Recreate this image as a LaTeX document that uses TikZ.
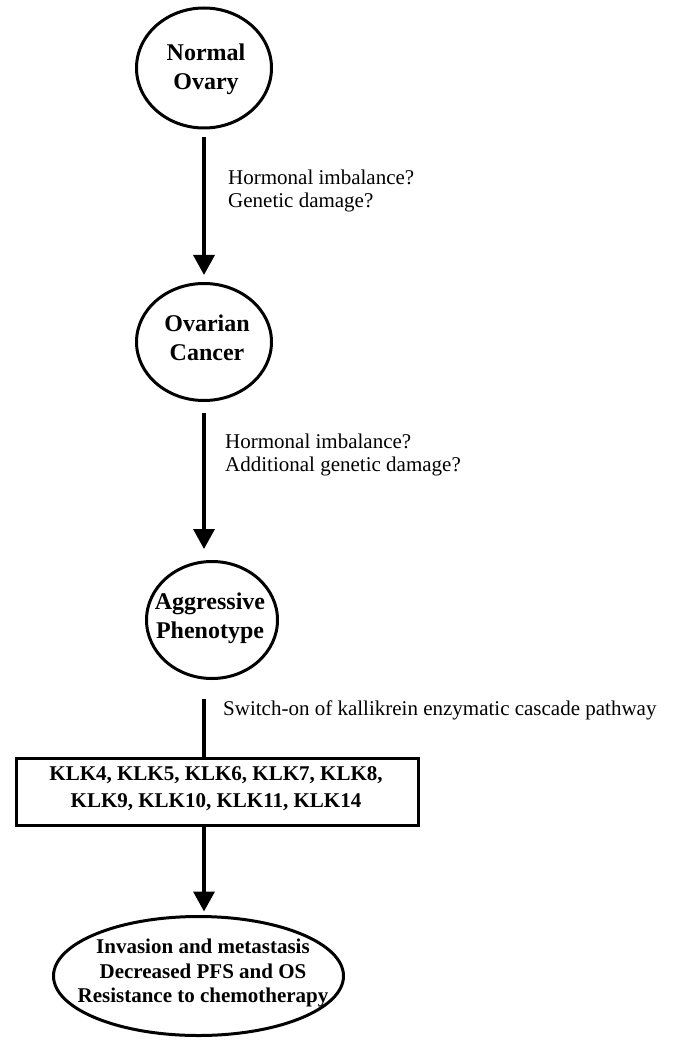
\documentclass[tikz,border=0pt]{standalone}
\usepackage{fontspec}
\setmainfont{Liberation Serif}
\usetikzlibrary{shapes.geometric,arrows.meta}
\begin{document}
\begin{tikzpicture}[x=1pt,y=-1pt,
  shapeline/.style={draw=black, line width=3pt},
  oval/.style={shapeline, ellipse, inner sep=0pt},
  ctext/.style={align=center, font=\fontsize{24}{29}\selectfont\bfseries, inner sep=0pt},
  btext/.style={align=center, font=\fontsize{21}{27}\selectfont\bfseries, inner sep=0pt},
  etext/.style={align=center, font=\fontsize{21}{24.5}\selectfont\bfseries, inner sep=0pt},
  lab/.style={align=left, anchor=west, font=\fontsize{21}{23}\selectfont, inner sep=0pt},
  flow/.style={line width=3.5pt, -{Triangle[width=21pt,length=20pt]}},
  plainline/.style={line width=3.5pt}]
\useasboundingbox (0,0) rectangle (674,1040);

\node[oval, minimum width=135pt, minimum height=120pt] (n1) at (204,68) {};
\node[ctext] (t1) at (206,69) {Normal\\Ovary};

\node[oval, minimum width=135pt, minimum height=117pt] (n2) at (204,342) {};
\node[ctext] (t2) at (207,338) {Ovarian\\Cancer};

\node[oval, minimum width=131pt, minimum height=117pt] (n3) at (212,620) {};
\node[ctext] (t3) at (210,618) {Aggressive\\Phenotype};

\node[shapeline, rectangle, minimum width=402pt, minimum height=67pt] (box) at (217.5,792) {};
\node[btext] (bt) at (216,789) {KLK4, KLK5, KLK6, KLK7, KLK8,\\KLK9, KLK10, KLK11, KLK14};

\node[oval, minimum width=290pt, minimum height=119pt] (n5) at (198.5,976) {};
\node[etext] (t5) at (203,973) {Invasion and metastasis\\Decreased PFS and OS\\Resistance to chemotherapy};

\draw[flow, shorten <=8pt, shorten >=7pt] (n1.south) -- (n2.north);
\draw[flow, shorten <=11pt, shorten >=11pt] (n2.south) -- (n2.south |- n3.north);
\draw[plainline, shorten <=19pt] (n3.south -| n1.south) -- (box.north -| n1.south);
\draw[flow, shorten >=3.5pt] (box.south -| n1.south) -- (n5.north -| n1.south);

\node[lab] (l1) at (228,190.5) {Hormonal imbalance?\\Genetic damage?};
\node[lab] (l2) at (225,455) {Hormonal imbalance?\\Additional genetic damage?};
\node[lab] (l3) at (223,710) {Switch-on of kallikrein enzymatic cascade pathway};
\end{tikzpicture}
\end{document}
